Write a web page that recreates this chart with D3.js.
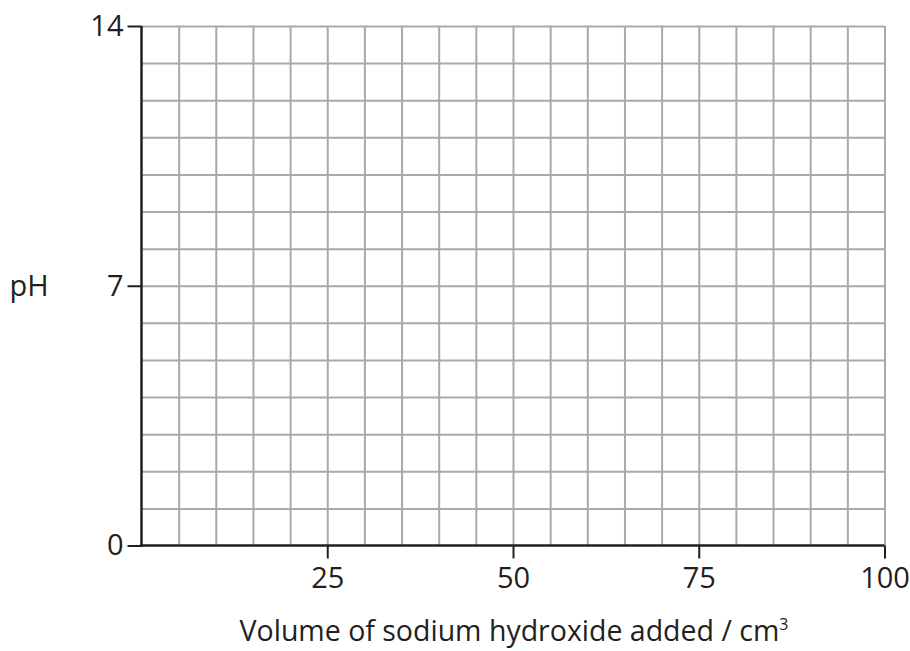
<!DOCTYPE html>
<html>
<head>
<meta charset="utf-8">
<script src="https://cdn.jsdelivr.net/npm/d3@7"></script>
<style>
  body { margin: 0; background: #fff; }
  text { font-family: "Open Sans", "Noto Sans", sans-serif; fill: #231f20; }
  .grid line { stroke: #a7a9ac; stroke-width: 2; }
  .grid .domain { display: none; }
  .axis .domain { display: none; }
  .axis line { stroke: #231f20; stroke-width: 2; }
</style>
</head>
<body>
<svg id="chart" width="910" height="651"></svg>
<script>
// axis ranges and tick labels
const xDomain = [0, 100];
const yDomain = [0, 14];
const xTicks = [25, 50, 75, 100];
const yTicks = [0, 7, 14];
const xGridStep = 5;
const yGridStep = 1;

const xTitle = 'Volume of sodium hydroxide added / cm';
const yTitle = 'pH';

const svg = d3.select('#chart');

const plotLeft = 141.5, plotRight = 884.5, plotTop = 26, plotBottom = 545.5;
const fontSize = 29;

const xScale = d3.scaleLinear().domain(xDomain).range([plotLeft, plotRight]);
const yScale = d3.scaleLinear().domain(yDomain).range([plotBottom, plotTop]);

const xGrid = d3.range(xDomain[0], xDomain[1] + xGridStep / 2, xGridStep);
const yGrid = d3.range(yDomain[0], yDomain[1] + yGridStep / 2, yGridStep);

// grid
svg.append('g')
  .attr('class', 'grid')
  .attr('transform', `translate(0, ${plotBottom})`)
  .call(d3.axisBottom(xScale)
    .tickValues(xGrid.slice(1))
    .tickSize(-(plotBottom - plotTop))
    .tickFormat(''));

svg.append('g')
  .attr('class', 'grid')
  .attr('transform', `translate(${plotLeft}, 0)`)
  .call(d3.axisLeft(yScale)
    .tickValues(yGrid.slice(1))
    .tickSize(-(plotRight - plotLeft))
    .tickFormat(''));

// axes
const xAxis = svg.append('g')
  .attr('class', 'axis')
  .attr('transform', `translate(0, ${plotBottom})`)
  .call(d3.axisBottom(xScale)
    .tickValues(xTicks)
    .tickSize(13)
    .tickPadding(9));
xAxis.selectAll('text').attr('font-size', fontSize);

const yAxis = svg.append('g')
  .attr('class', 'axis')
  .attr('transform', `translate(${plotLeft}, 0)`)
  .call(d3.axisLeft(yScale)
    .tickValues(yTicks)
    .tickSize(14)
    .tickPadding(4));
yAxis.selectAll('text').attr('font-size', fontSize);

svg.append('line')
  .attr('x1', plotLeft).attr('x2', plotLeft)
  .attr('y1', yScale(yDomain[1])).attr('y2', yScale(yDomain[0]) + 1.25)
  .attr('stroke', '#231f20').attr('stroke-width', 2.5);

svg.append('line')
  .attr('x1', plotLeft - 1.25).attr('x2', xScale(xDomain[1]))
  .attr('y1', plotBottom).attr('y2', plotBottom)
  .attr('stroke', '#231f20').attr('stroke-width', 2.5);

// titles
const xt = svg.append('text')
  .attr('x', 514)
  .attr('y', 641)
  .attr('text-anchor', 'middle')
  .attr('font-size', fontSize - 0.5)
  .text(xTitle);
xt.append('tspan')
  .attr('font-size', 16)
  .attr('dy', -11)
  .text('3');

svg.append('text')
  .attr('x', 29)
  .attr('y', 296)
  .attr('text-anchor', 'middle')
  .attr('font-size', fontSize)
  .text(yTitle);
</script>
</body>
</html>
